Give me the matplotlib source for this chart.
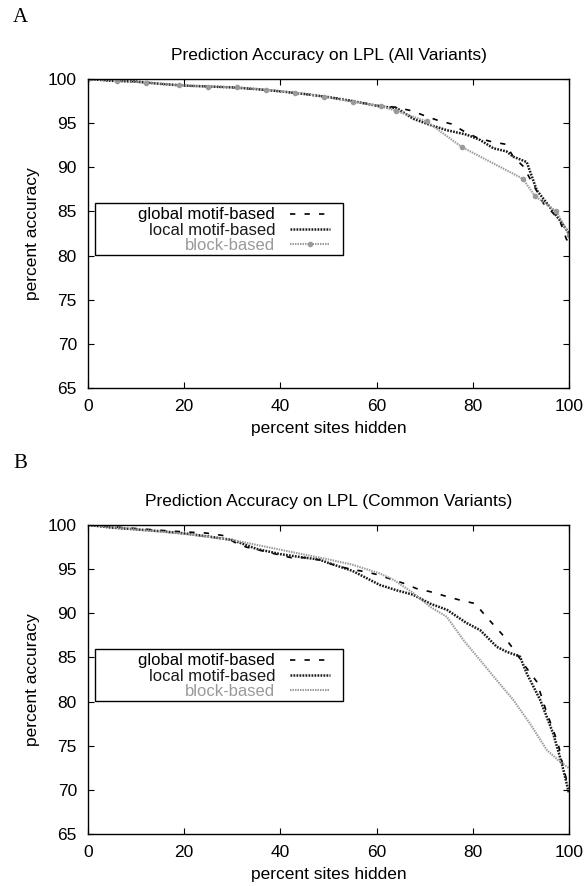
import matplotlib
matplotlib.use("Agg")
import matplotlib.pyplot as plt
from matplotlib.patches import Rectangle

plt.rcParams['font.family'] = ['Liberation Sans', 'DejaVu Sans']

# panel A - all variants
xA_global = [0, 5, 10, 15, 20, 25, 30, 35, 40, 45, 50, 55, 60, 64, 67.3, 69.7, 72.8, 75.6, 78.4, 81.1, 83.9, 86.9, 88.4, 90.5, 92.0, 94.7, 96.7, 98.2, 99.5, 100]
yA_global = [100, 99.8, 99.7, 99.45, 99.25, 99.15, 99.05, 98.85, 98.6, 98.3, 97.95, 97.5, 97.0, 96.8, 96.4, 95.9, 95.3, 94.9, 94.0, 93.3, 92.9, 92.6, 91.2, 90.1, 88.6, 85.9, 84.8, 83.8, 81.8, 81.7]
xA_local = [0, 5, 10, 15, 20, 25, 30, 35, 40, 45, 50, 55, 60.7, 64.2, 67.6, 71.1, 74.6, 78.7, 81.5, 84.3, 87.0, 88.4, 91.2, 93.3, 96.0, 98.5, 100]
yA_local = [100, 99.8, 99.7, 99.45, 99.25, 99.15, 99.05, 98.85, 98.6, 98.3, 97.95, 97.5, 96.9, 96.7, 95.5, 94.8, 94.2, 93.7, 93.1, 92.15, 91.8, 91.2, 90.6, 87.4, 85.5, 83.7, 82.5]
xA_block = [0, 6, 12, 19, 25, 31, 37, 43, 49, 55, 61, 64, 70.4, 77.7, 90.4, 92.9, 97.4, 100]
yA_block = [100, 99.8, 99.6, 99.3, 99.15, 99.05, 98.8, 98.45, 98.0, 97.45, 96.9, 96.4, 95.2, 92.3, 88.7, 86.75, 85.0, 82.3]

# panel B - common variants
xB_global = [0, 5, 10, 15, 20.5, 24.4, 28.2, 30.6, 32.9, 36, 39.1, 42.2, 45.3, 48.4, 51.5, 54.6, 57.7, 60, 63.1, 65.6, 68.3, 71.1, 74.6, 77.3, 80.5, 82.5, 84.3, 86.3, 88.1, 90.9, 93.3, 94.3, 95.4, 96.7, 97.8, 98.8, 99.5, 100]
yB_global = [100, 99.8, 99.6, 99.4, 99.2, 99.1, 98.8, 98.0, 97.5, 97.1, 96.7, 96.3, 96.3, 96.0, 95.4, 95.0, 94.7, 94.4, 93.85, 93.4, 92.8, 92.45, 91.9, 91.5, 91.1, 89.8, 88.7, 87.5, 86.2, 84.0, 82.25, 80.55, 78.7, 76.8, 75.1, 72.6, 71.1, 70.2]
xB_local = [0, 5, 10, 15, 20, 25, 30, 35, 40, 45, 48, 50, 55, 60.7, 64.2, 67.6, 71.1, 74.6, 78.7, 81.5, 85.0, 87.0, 89.8, 91.2, 94.0, 96.7, 98.5, 100]
yB_local = [100, 99.7, 99.5, 99.3, 99.05, 98.7, 98.3, 97.3, 96.7, 96.3, 96.1, 95.7, 94.8, 93.2, 92.6, 92.1, 91.1, 90.4, 88.9, 88.1, 86.2, 85.65, 85.1, 83.2, 80.2, 76.4, 73.0, 69.6]
xB_block = [0, 10, 20, 30, 40, 50, 55, 60.7, 63.5, 67.6, 71.1, 74.6, 78.0, 81.5, 85.0, 88.4, 91.9, 95.4, 98.1, 100]
yB_block = [100, 99.5, 99.0, 98.3, 97.2, 96.1, 95.5, 94.5, 93.8, 92.3, 90.75, 89.6, 87.0, 84.7, 82.4, 80.2, 77.5, 74.5, 73.2, 72.45]

labels = ["global motif-based", "local motif-based", "block-based"]
xticks = [0, 20, 40, 60, 80, 100]
yticks = [65, 70, 75, 80, 85, 90, 95, 100]
titles = ["Prediction Accuracy on LPL (All Variants)", "Prediction Accuracy on LPL (Common Variants)"]
panels = ["A", "B"]

GRAY = "#9a9a9a"
FS = 12.5

fig = plt.figure(figsize=(5.86, 8.86), dpi=100)
axA = fig.add_axes([88/586, 1-388/886, 481/586, 309/886])
axB = fig.add_axes([88/586, 1-834/886, 481/586, 309/886])


def draw(ax, xg, yg, xl, yl, xb, yb, marks, title):
    ax.plot(xg, yg, color="black", lw=1.2, linestyle=(0, (3.2, 5.5)), label=labels[0])
    ax.plot(xl, yl, color="#1a1a1a", lw=1.8, linestyle=(0, (0.7, 0.5)), label=labels[1])
    if marks:
        ax.plot(xb, yb, color=GRAY, lw=1.5, linestyle=(0, (0.7, 0.5)), marker="o", ms=3, label=labels[2])
    else:
        ax.plot(xb, yb, color=GRAY, lw=1.5, linestyle=(0, (0.7, 0.5)), label=labels[2])
    ax.set_xlim(0, 100)
    ax.set_ylim(65, 100)
    ax.set_xticks(xticks)
    ax.set_yticks(yticks)
    ax.tick_params(direction="in", length=4, width=0.8, top=True, right=True, labelsize=FS, pad=8)
    for s in ax.spines.values():
        s.set_linewidth(1.0)
    ax.set_title(title, fontsize=FS, pad=14)
    ax.set_xlabel("percent sites hidden", fontsize=FS, labelpad=5)
    ax.set_ylabel("percent accuracy", fontsize=FS, labelpad=6)
    ax.add_patch(Rectangle((0.015, 0.431), 0.516, 0.169, transform=ax.transAxes,
                           fill=False, edgecolor="black", lw=1.0, zorder=5))
    ax.legend(loc="upper right", bbox_to_anchor=(0.524, 0.617), frameon=False,
              markerfirst=False, fontsize=12, labelcolor="linecolor",
              handlelength=2.4, handletextpad=0.9, labelspacing=0.02, borderpad=0.1)


draw(axA, xA_global, yA_global, xA_local, yA_local, xA_block, yA_block, True, titles[0])
draw(axB, xB_global, yB_global, xB_local, yB_local, xB_block, yB_block, False, titles[1])

fig.text(20/586, 1-17/886, panels[0], family="Liberation Serif", fontsize=15, ha="center", va="center")
fig.text(20/586, 1-463/886, panels[1], family="Liberation Serif", fontsize=15, ha="center", va="center")

fig.savefig("out.png", dpi=100)
